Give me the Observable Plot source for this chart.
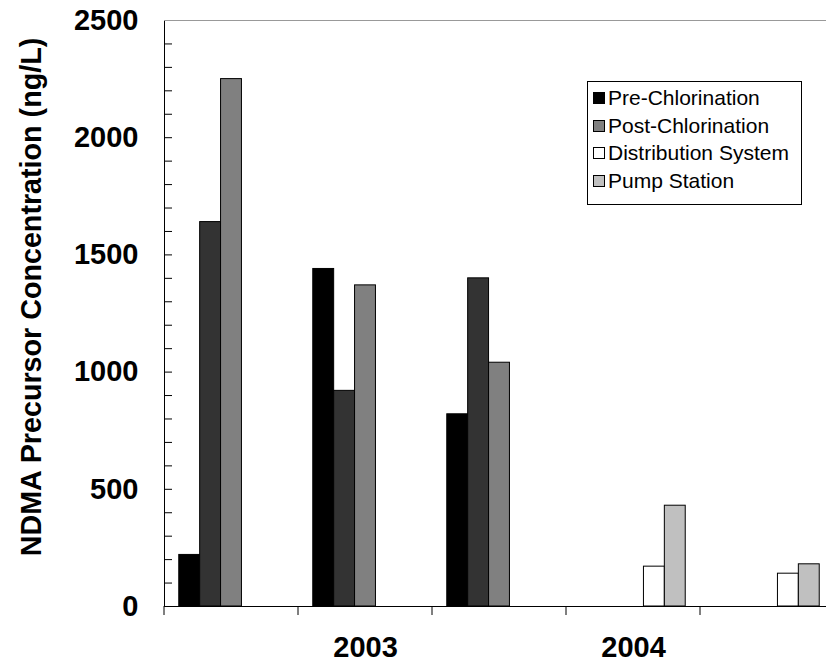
<!DOCTYPE html>
<html><head><meta charset="utf-8">
<script src="https://cdn.jsdelivr.net/npm/d3@7"></script>
<script src="https://cdn.jsdelivr.net/npm/@observablehq/plot@0.6"></script>
<style>
html,body{margin:0;padding:0;background:#fff;overflow:hidden}
#wrap{position:relative;width:826px;height:663px;overflow:hidden}
#legend{position:absolute;left:587px;top:81px;width:215px;border:1px solid #000;background:#fff;
  font-family:"Liberation Sans",Arial,sans-serif;font-size:21px;padding:2px 0 9px 0;box-sizing:border-box;color:#000}
.item{display:flex;align-items:center;height:27.7px;padding-left:5px;white-space:nowrap}
.sw{width:10px;height:10px;border:1px solid #000;margin-right:3px;flex:none}
</style></head><body><div id="wrap"></div>
<script>
// categories (x slots) and their tick labels
const slots = ["s1", "s2", "s3", "s4", "s5"];
const slotLabels = ["", "2003", "", "2004", ""];
// series
const series = ["Pre-Chlorination", "Series 2", "Post-Chlorination", "Distribution System", "Pump Station"];
const seriesColors = ["#000000", "#333333", "#808080", "#ffffff", "#c0c0c0"];
// values per series (one per slot)
const preChlorination    = [220, 1440, 820, null, null];
const series2            = [1640, 920, 1400, null, null];
const postChlorination   = [2250, 1370, 1040, null, null];
const distributionSystem = [null, null, null, 170, 140];
const pumpStation        = [null, null, null, 430, 180];
// legend entries shown in the chart
const legendSeries = ["Pre-Chlorination", "Post-Chlorination", "Distribution System", "Pump Station"];
// axis title and y ticks
const yTitle = "NDMA Precursor Concentration (ng/L)";
const yTicks = d3.range(0, 2501, 100);
const yMax = 2500;

const valuesBySeries = [preChlorination, series2, postChlorination, distributionSystem, pumpStation];
const data = [];
slots.forEach((s, i) => series.forEach((name, j) => {
  const v = valuesBySeries[j][i];
  if (v != null) data.push({slot: s, series: name, value: v});
}));
const labelOf = new Map(slots.map((s, i) => [s, slotLabels[i]]));

const plot = Plot.plot({
  width: 826, height: 663,
  marginLeft: 162, marginRight: -9, marginTop: 20, marginBottom: 57,
  style: {fontFamily: "'Liberation Sans', Arial, sans-serif", fontSize: "29px", fontWeight: "bold", color: "#000", background: "#fff", overflow: "visible"},
  facet: {data, x: "slot"},
  fx: {domain: slots, padding: 0, tickFormat: d => labelOf.get(d), tickSize: 0, tickPadding: 30, label: null},
  x: {domain: series, paddingInner: 0, paddingOuter: 0.707, round: false, axis: null},
  y: {domain: [0, yMax], ticks: yTicks, tickFormat: d => d % 500 === 0 ? String(d) : "", tickSize: -8, tickPadding: 34,
      line: true, label: null},
  color: {domain: series, range: seriesColors},
  marks: [
    Plot.ruleY([yMax], {stroke: "#999"}),
    Plot.barY(data, {x: "series", y: "value", fill: "series", stroke: "#000", strokeWidth: 1}),
    Plot.ruleY([0], {stroke: "#000"})
  ]
});
const wrap = document.getElementById("wrap");
wrap.appendChild(plot);

const svg = d3.select(plot.tagName.toLowerCase() === "svg" ? plot : plot.querySelector("svg"));
const fx = plot.scale("fx"), ys = plot.scale("y");
const y0 = ys.apply(0);
// boundary tick marks on the x axis, from the library's scales
slots.forEach(s => {
  const x = fx.apply(s);
  svg.append("line").attr("x1", x).attr("x2", x).attr("y1", y0).attr("y2", y0 + 9).attr("stroke", "#000");
});
// y-axis title
svg.append("text")
  .attr("transform", "translate(31,297) rotate(-90)")
  .attr("text-anchor", "middle").attr("dominant-baseline", "central")
  .attr("font-size", 28.7).attr("font-weight", "bold").attr("fill", "#000")
  .text(yTitle);

// legend
const colorOf = new Map(series.map((s, i) => [s, seriesColors[i]]));
const legend = document.createElement("div");
legend.id = "legend";
legendSeries.forEach(name => {
  const item = document.createElement("div"); item.className = "item";
  const sw = document.createElement("span"); sw.className = "sw"; sw.style.background = colorOf.get(name);
  const t = document.createElement("span"); t.textContent = name;
  item.appendChild(sw); item.appendChild(t); legend.appendChild(item);
});
wrap.appendChild(legend);
</script></body></html>
